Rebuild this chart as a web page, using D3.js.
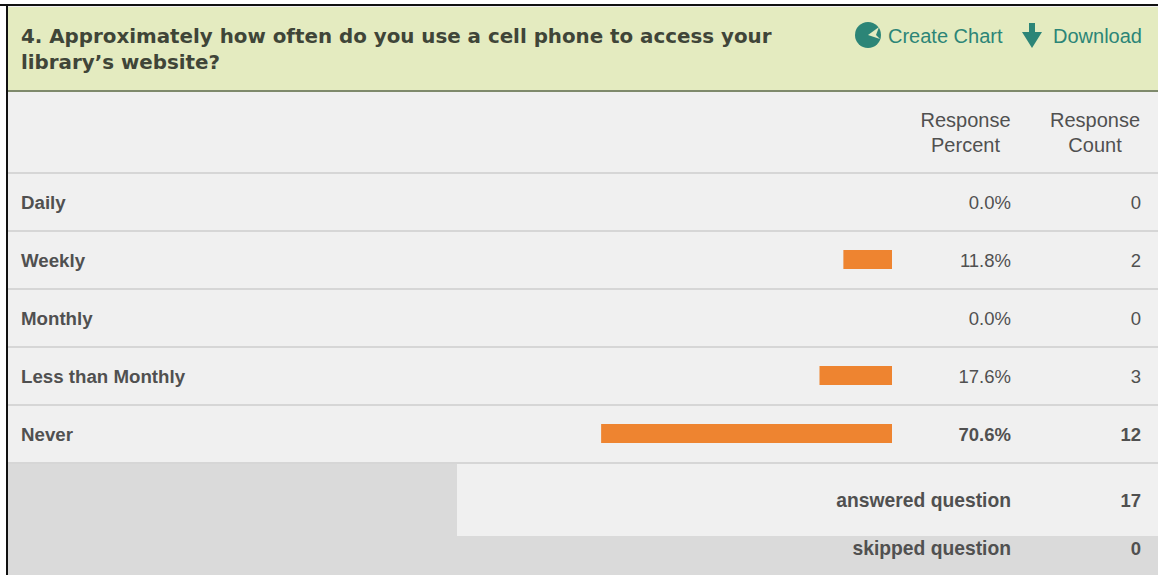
<!DOCTYPE html>
<html>
<head>
<meta charset="utf-8">
<script src="https://cdn.jsdelivr.net/npm/d3@7/dist/d3.min.js"></script>
<style>
html,body{margin:0;padding:0;background:#fff}
svg{display:block}
text{font-family:"Liberation Sans",Arial,sans-serif;fill:#505050;font-size:18.5px}
</style>
</head>
<body>
<svg id="chart" width="1158" height="575"></svg>
<script>
const titleLines = ["4. Approximately how often do you use a cell phone to access your", "library\u2019s website?"];
const categories = ["Daily", "Weekly", "Monthly", "Less than Monthly", "Never"];
const percents = [0.0, 11.8, 0.0, 17.6, 70.6];
const counts = [0, 2, 0, 3, 12];
const columnHeads = [["Response", "Percent"], ["Response", "Count"]];
const summaryLabels = ["answered question", "skipped question"];
const summaryValues = [17, 0];

const svg = d3.select("#chart");
const w = 1158, h = 575;
const panelLeft = 8, panelTop = 6;

// Panel backgrounds
svg.append("rect").attr("width", w).attr("height", h).attr("fill", "#fff");
svg.append("rect").attr("x", panelLeft).attr("y", panelTop).attr("width", w - panelLeft).attr("height", h - panelTop).attr("fill", "#f0f0f0");
svg.append("rect").attr("x", panelLeft).attr("y", panelTop + 1).attr("width", w - panelLeft).attr("height", 84).attr("fill", "#e4ebc0");
svg.append("rect").attr("x", panelLeft).attr("y", 90).attr("width", w - panelLeft).attr("height", 2).attr("fill", "#7f8a6c");

// Footer block sits behind the summary rows
svg.append("rect").attr("x", panelLeft).attr("y", 463).attr("width", w - panelLeft).attr("height", h - 463).attr("fill", "#dadada");
svg.append("rect").attr("x", 457).attr("y", 463).attr("width", w - 457).attr("height", 73).attr("fill", "#f0f0f0");

// Frame
svg.append("rect").attr("x", 0).attr("y", 4).attr("width", w).attr("height", 2).attr("fill", "#111");
svg.append("rect").attr("x", 6).attr("y", 4).attr("width", 2).attr("height", h - 4).attr("fill", "#111");

// Title
svg.selectAll("text.title").data(titleLines).join("text")
  .attr("class", "title").attr("x", 21).attr("y", (d, i) => 43 + i * 26)
  .style("font-family", "'DejaVu Sans',Verdana,sans-serif")
  .style("font-weight", "bold").style("font-size", "19.85px").style("fill", "#3f4538")
  .text(d => d);

// Toolbar actions
const teal = "#2c8577";
const tools = svg.append("g");
const pie = tools.append("g").attr("transform", "translate(868,35)");
pie.append("circle").attr("r", 13).attr("fill", teal);
pie.append("path").attr("d", "M0,0L11,-8L8,0L12,4Z").attr("fill", "#e4ebc0");
tools.append("path").attr("d", "M1029,23h6v9h7l-10,16l-10,-16h7z").attr("fill", teal);
tools.append("text").attr("x", 888).attr("y", 43).style("fill", teal).style("font-size", "20px").text("Create Chart");
tools.append("text").attr("x", 1142).attr("y", 43).attr("text-anchor", "end").style("fill", teal).style("font-size", "20px").text("Download");

// Column positions and row bands
const xBar = d3.scaleLinear().domain([0, 100]).range([0, 412]);
const barRight = 892;
const rowY = d3.scaleBand().domain(categories).range([173, 463]);
const pctX = 1011, pctHeadX = 965.5, countX = 1141, countHeadX = 1095;

// Column headers
columnHeads.forEach((lines, c) => {
  lines.forEach((t, i) => {
    svg.append("text").attr("text-anchor", "middle")
      .attr("x", c === 0 ? pctHeadX : countHeadX).attr("y", 127 + i * 25)
      .style("font-size", "20px").text(t);
  });
});

// Row separators
const separators = [173].concat(categories.map(c => rowY(c) + rowY.bandwidth()));
svg.selectAll("rect.sep").data(separators).join("rect")
  .attr("class", "sep").attr("x", panelLeft).attr("y", d => d - 1)
  .attr("width", w - panelLeft).attr("height", 2).attr("fill", "#d6d6d6");

// Data rows
const rows = svg.selectAll("g.row").data(categories).join("g")
  .attr("class", "row")
  .attr("transform", d => `translate(0,${rowY(d) + rowY.bandwidth() / 2})`);

rows.append("text").attr("x", 21).attr("y", 6.5)
  .style("font-weight", "bold").style("font-size", "18.7px").text(d => d);
rows.append("rect")
  .attr("x", (d, i) => barRight - xBar(percents[i])).attr("y", -10)
  .attr("width", (d, i) => xBar(percents[i])).attr("height", 19)
  .attr("fill", "#ee8430");
rows.append("text").attr("x", pctX).attr("y", 7).attr("text-anchor", "end")
  .style("font-weight", (d, i) => i === 4 ? "bold" : "normal")
  .text((d, i) => percents[i].toFixed(1) + "%");
rows.append("text").attr("x", countX).attr("y", 7).attr("text-anchor", "end")
  .style("font-weight", (d, i) => i === 4 ? "bold" : "normal")
  .text((d, i) => counts[i]);

// Summary rows
summaryLabels.forEach((t, i) => {
  const y = i === 0 ? 507 : 555;
  svg.append("text").attr("x", pctX).attr("y", y).attr("text-anchor", "end")
    .style("font-weight", "bold").style("font-size", "19.3px").text(t);
  svg.append("text").attr("x", countX).attr("y", y).attr("text-anchor", "end")
    .style("font-weight", "bold").text(summaryValues[i]);
});
</script>
</body>
</html>
